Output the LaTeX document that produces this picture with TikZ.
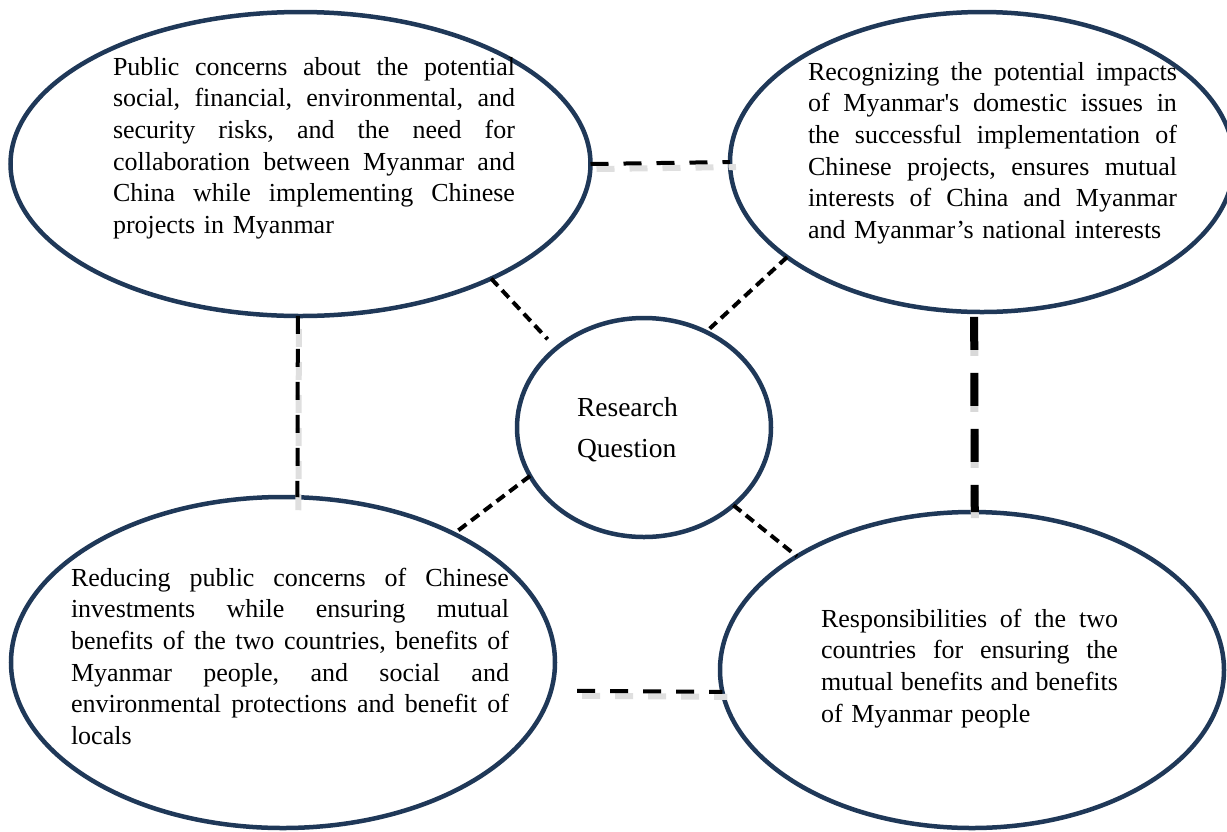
\documentclass[tikz,border=0pt]{standalone}
\usepackage{fontspec}
\setmainfont{Liberation Serif}
\usetikzlibrary{shapes.geometric}
\definecolor{ellcol}{HTML}{1F3858}
\newcommand\mytxtfont{\fontsize{26}{31.7}\selectfont}
\newcommand\myrqfont{\fontsize{27.5}{41}\selectfont}
\newcommand\jlw{400pt}
\newcommand\jl[1]{\leavevmode\hbox to\jlw{\frenchspacing\spaceskip=.25em plus 1fil minus .1em\xspaceskip=\spaceskip #1}\par}
\newcommand\jlast[1]{\leavevmode\hbox{#1}\par}
\begin{document}
\begin{tikzpicture}[x=1pt,y=-1pt,
  ell/.style={ellipse, draw=ellcol, line width=4.5pt, inner sep=0pt, outer sep=0pt},
  conn/.style={line width=4pt, dash pattern=on 18pt off 15pt},
  diag/.style={line width=4pt, dash pattern=on 10pt off 6pt},
  thickconn/.style={line width=8pt, dash pattern=on 33pt off 23pt, dash phase=51pt},
  shad/.style={draw=gray!25, line width=6pt, dash pattern=on 18pt off 15pt},
  txt/.style={anchor=base west, inner sep=0pt, outer sep=0pt, font=\mytxtfont}]
\useasboundingbox (0,0) rectangle (1227,831);
\clip (0,0) rectangle (1227,831);

% ellipses
\node[ell, minimum width=580pt, minimum height=304pt] (tl) at (300.5,164) {};
\node[ell, minimum width=504pt, minimum height=300pt] (tr) at (982,162) {};
\node[ell, minimum width=254pt, minimum height=219pt] (rq) at (644,427.5) {};
\node[ell, minimum width=544pt, minimum height=331pt] (bl) at (283,662.5) {};
\node[ell, minimum width=504pt, minimum height=316pt] (br) at (972,670) {};

% soft shadows of the shadowed connectors
\draw[shad, transform canvas={xshift=6pt,yshift=-5pt}] (tl.0) -- (tr.180);
\draw[shad, transform canvas={xshift=1pt,yshift=-13pt}] (tl.-91.4) -- (bl.85.3);
\draw[shad, transform canvas={xshift=5pt,yshift=-5pt}, shorten <=26pt] (bl.-6.3) -- (br.185);
\draw[draw=gray!30, line width=8pt, dash pattern=on 33pt off 23pt, dash phase=51pt,
      transform canvas={yshift=-6pt}] (tr.-93.4) -- (br.89.6);

% connectors
\draw[conn] (tl.0) -- (tr.180);
\draw[conn] (tl.-91.4) -- (bl.85.3);
\draw[conn, shorten <=26pt] (bl.-6.3) -- (br.185);
\draw[thickconn] (tr.-93.4) -- (br.89.6);
\draw[diag, shorten >=12.5pt] (tl.-31.8) -- (rq.138);
\draw[diag, shorten >=5pt] (tr.206.1) -- (rq.57.5);
\draw[diag] (rq.203.9) -- (bl.37.5);
\draw[diag] (rq.-41.1) -- (br.147.9);

% texts
\node[txt, text width=402pt] (tltext) at (113,75) {\def\jlw{402pt}%
\jl{Public concerns about the potential}%
\jl{social, financial, environmental, and}%
\jl{security risks, and the need for}%
\jl{collaboration between Myanmar and}%
\jl{China while implementing Chinese}%
\jlast{projects in Myanmar}};

\node[txt, text width=369pt] (trtext) at (808,80) {\def\jlw{369pt}%
\jl{Recognizing the potential impacts}%
\jl{of Myanmar\textquotesingle s domestic issues in}%
\jl{the successful implementation of}%
\jl{Chinese projects, ensures mutual}%
\jl{interests of China and Myanmar}%
\jlast{and Myanmar’s national interests}};

\node[txt, text width=438pt] (bltext) at (71,586) {\def\jlw{438pt}%
\jl{Reducing public concerns of Chinese}%
\jl{investments while ensuring mutual}%
\jl{benefits of the two countries, benefits of}%
\jl{Myanmar people, and social and}%
\jl{environmental protections and benefit of}%
\jlast{locals}};

\node[txt, text width=297pt] (brtext) at (821,627) {\def\jlw{297pt}%
\jl{Responsibilities of the two}%
\jl{countries for ensuring the}%
\jl{mutual benefits and benefits}%
\jlast{of Myanmar people}};

\node[txt, font=\myrqfont, text width=130pt, align=left] (rqtext) at (577,416) {Research\\Question};
\end{tikzpicture}
\end{document}
